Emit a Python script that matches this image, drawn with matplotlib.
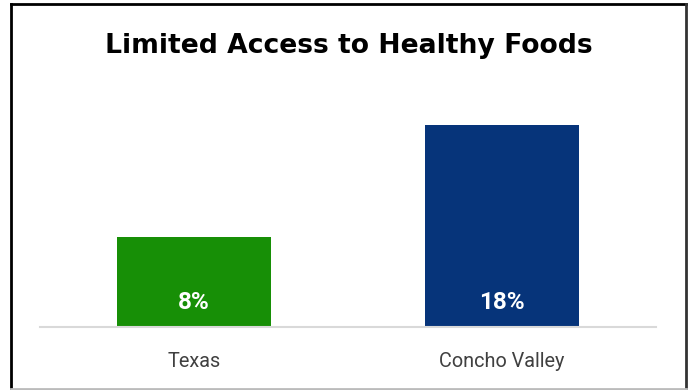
import matplotlib.pyplot as plt
from matplotlib.lines import Line2D

categories = ["Texas", "Concho Valley"]
values = [8, 18]
labels = ["8%", "18%"]
colors = ["#178f06", "#06347a"]

W, H = 693, 390
fig = plt.figure(figsize=(W / 100, H / 100), dpi=100)
ax = fig.add_axes([40 / W, (H - 327) / H, 616 / W, 224 / H])

x = range(len(categories))
bars = ax.bar(x, values, width=0.5, color=colors)
for xi, v, lab in zip(x, values, labels):
    ax.text(xi, 2.2, lab, ha="center", va="center", color="white",
            fontsize=17.5, fontweight="bold", family="Roboto")

ax.set_xlim(-0.5, 1.5)
ax.set_ylim(0, 20)
ax.set_xticks(list(x))
ax.set_xticklabels(categories, fontsize=14.3, color="#404040", family="Roboto")
ax.tick_params(axis="x", length=0, pad=18)
ax.set_yticks([])
for s in ["top", "right", "left"]:
    ax.spines[s].set_visible(False)
ax.spines["bottom"].set_color("#d9d9d9")
ax.spines["bottom"].set_linewidth(1.5)

fig.text(0.503, (H - 46) / H, "Limited Access to Healthy Foods", ha="center", va="center",
         fontsize=19.2, fontweight="bold", family="DejaVu Sans", color="black")

# outer frame
def px(xp, yp):
    return xp / W, 1 - yp / H
for (x0, y0), (x1, y1), c in [((11, 4), (686, 4), "black"), ((11, 4), (11, 389), "black"),
                               ((686, 4), (686, 389), "#333333"), ((11, 388.5), (686, 388.5), "#bbbbbb")]:
    a, b = px(x0, y0)
    c2, d = px(x1, y1)
    fig.add_artist(Line2D([a, c2], [b, d], color=c, lw=2, transform=fig.transFigure))

fig.savefig("out.png", dpi=100)
